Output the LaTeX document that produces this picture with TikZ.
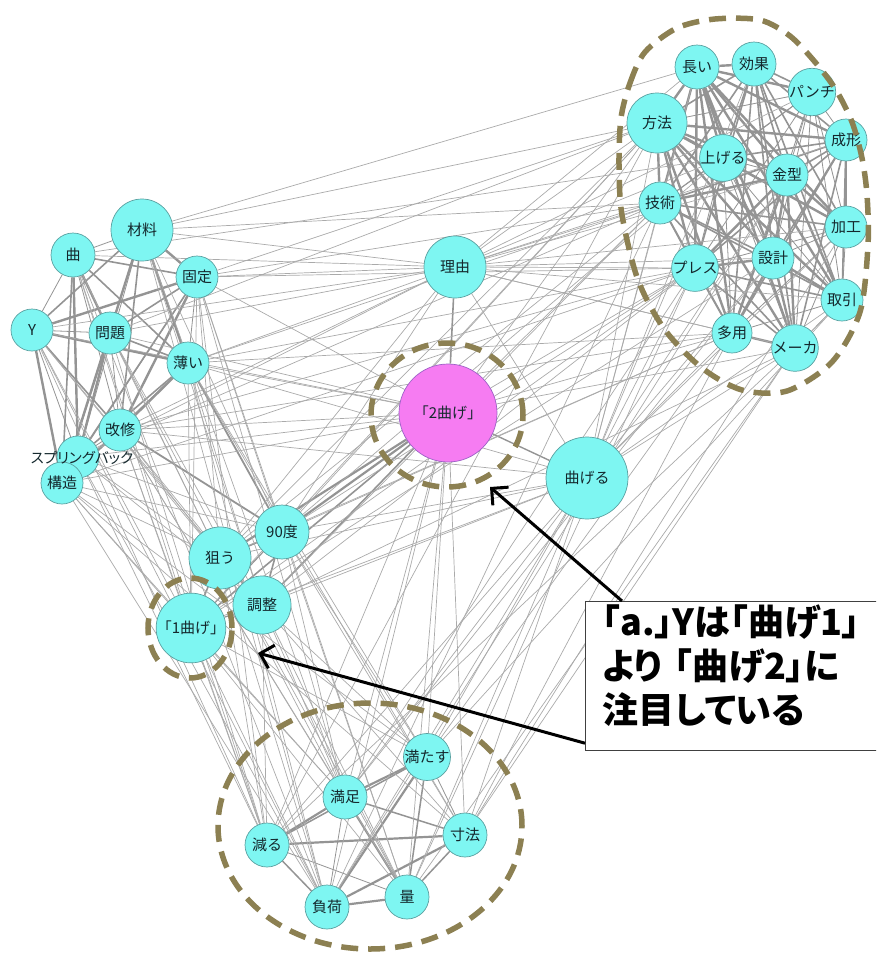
\documentclass[tikz,border=0pt]{standalone}
\usepackage{fontspec}
\setmainfont{Noto Sans CJK JP}
\newfontfamily\notefont[RawFeature=+palt]{Noto Sans CJK JP}
\usetikzlibrary{arrows.meta,calc}

\definecolor{nodecyan}{RGB}{126,246,242}
\definecolor{nodepink}{RGB}{246,124,242}
\definecolor{nodeedge}{RGB}{90,160,160}
\definecolor{nodetext}{RGB}{20,40,45}
\definecolor{dashcol}{RGB}{140,128,82}
\definecolor{edgegray}{RGB}{148,148,148}
\definecolor{thingray}{RGB}{170,170,170}

\pgfdeclarelayer{edges}
\pgfsetlayers{edges,main}

\tikzset{
  kw/.style={circle, draw=nodeedge, line width=0.7pt, fill=nodecyan,
    inner sep=0pt, minimum size=#1, text=nodetext,
    font=\fontsize{15}{15}\selectfont},
  kw/.default=42pt,
  link/.style={draw=edgegray, line width=#1},
  link/.default=1pt,
  faint/.style={draw=thingray, line width=0.7pt},
  group/.style={draw=dashcol, line width=5.5pt, dash pattern=on 17pt off 10pt},
  pointer/.style={draw=black, line width=3pt,
    -{Straight Barb[length=12pt,width=24pt,line width=3pt]}},
  notebox/.style={draw=black!75, line width=1.2pt, fill=white,
    anchor=north west, minimum width=300pt, minimum height=149pt},
  notetext/.style={anchor=north west, inner sep=0pt, text width=268pt,
    align=left, font=\notefont\bfseries\fontsize{36}{44}\selectfont}
}

\begin{document}
\begin{tikzpicture}[x=1pt,y=-1pt]
\useasboundingbox (0,0) rectangle (876,956);
\clip (0,0) rectangle (876,956);

% ---- right-hand cluster
\node[kw=44pt] (naga)     at (697,67)  {長い};
\node[kw=44pt] (kouka)    at (754,64)  {効果};
\node[kw=42pt] (panch)    at (812,92)  {パンチ};
\node[kw=60pt] (houhou)   at (657,123) {方法};
\node[kw=42pt] (seikei)   at (846,140) {成形};
\node[kw=42pt] (ageru)    at (723,158) {上げる};
\node[kw=42pt] (kanagata) at (787,175) {金型};
\node[kw=42pt] (gijutsu)  at (660,203) {技術};
\node[kw=42pt] (kakou)    at (846,227) {加工};
\node[kw=42pt] (sekkei)   at (773,258) {設計};
\node[kw=42pt] (press)    at (695,268) {プレス};
\node[kw=42pt] (torihiki) at (842,300) {取引};
\node[kw=40pt] (tayou)    at (732,333) {多用};
\node[kw=42pt] (maker)    at (795,348) {メーカ};

% ---- left-hand cluster
\node[kw=62pt] (zairyo)   at (142,230) {材料};
\node[kw=44pt] (kyoku)    at (73,255)  {曲};
\node[kw=42pt] (kotei)    at (197,277) {固定};
\node[kw=42pt] (Y)        at (32,330)  {Y};
\node[kw=42pt] (mondai)   at (110,333) {問題};
\node[kw=42pt] (usui)     at (188,363) {薄い};
\node[kw=42pt] (kaishu)   at (120,430) {改修};
\node[kw=42pt] (spring)   at (78,457)  {};
\node[kw=42pt] (kouzou)   at (62,483)  {構造};
\node[font=\notefont\fontsize{14.5}{14.5}\selectfont, text=nodetext, inner sep=0pt]
  (springlabel) at (82,458) {スプリングバック};

% ---- centre
\node[kw=62pt] (riyu)     at (455,267) {理由};
\node[kw=98pt, fill=nodepink, draw=nodeedge!60!magenta] (nimage) at (448,413) {「2曲げ」};
\node[kw=82pt] (mageru)   at (587,478) {曲げる};
\node[kw=54pt] (kyudo)    at (282,532) {90度};
\node[kw=62pt] (nerau)    at (220,558) {狙う};
\node[kw=58pt] (chosei)   at (262,605) {調整};
\node[kw=60pt] (ichimage) at (191,628) {「1曲げ」};

% ---- lower cluster
\node[kw=44pt] (mitasu)   at (427,757) {満たす};
\node[kw=44pt] (manzoku)  at (345,797) {満足};
\node[kw=44pt] (heru)     at (267,845) {減る};
\node[kw=44pt] (sunpou)   at (465,835) {寸法};
\node[kw=44pt] (fuka)     at (327,907) {負荷};
\node[kw=44pt] (ryou)     at (407,897) {量};

\def\rightset{naga,kouka,panch,houhou,seikei,ageru,kanagata,gijutsu,kakou,sekkei,press,torihiki,tayou,maker}
\def\leftset{zairyo,kyoku,kotei,Y,mondai,usui,kaishu,spring,kouzou}
\def\lowset{mitasu,manzoku,heru,sunpou,fuka,ryou}

\begin{pgfonlayer}{edges}
% dense links inside each cluster
\foreach \a [count=\i] in \rightset {
  \foreach \b [count=\j] in \rightset {
    \ifnum\j>\i
      \pgfmathsetmacro\w{0.8+0.8*mod(\i*5+\j*3,3)}
      \draw[link=\w pt] (\a) -- (\b);
    \fi
  }
}
\foreach \a [count=\i] in \leftset {
  \foreach \b [count=\j] in \leftset {
    \ifnum\j>\i
      \pgfmathsetmacro\w{0.8+0.8*mod(\i*2+\j*5,3)}
      \draw[link=\w pt] (\a) -- (\b);
    \fi
  }
}
\foreach \a [count=\i] in \lowset {
  \foreach \b [count=\j] in \lowset {
    \ifnum\j>\i
      \pgfmathsetmacro\w{0.8+0.7*mod(\i+\j*2,3)}
      \draw[link=\w pt] (\a) -- (\b);
    \fi
  }
}
% links around the centre
\draw[link=1.6pt] (riyu) -- (nimage);
\draw[link=1.4pt] (nimage) -- (mageru);
\draw[link=2.2pt] (nimage) -- (kyudo);
\draw[link=2.2pt] (nimage) -- (nerau);
\draw[link=1.6pt] (nimage) -- (chosei);
\draw[link=1.6pt] (nimage) -- (ichimage);
\draw[link=1.6pt] (kyudo) -- (nerau);
\draw[link=1.6pt] (kyudo) -- (chosei);
\draw[link=1.6pt] (nerau) -- (chosei);
\draw[link=1.6pt] (nerau) -- (ichimage);
\draw[link=1.2pt] (chosei) -- (ichimage);
\draw[link=1.2pt] (kyudo) -- (ichimage);
\draw[link=1.8pt] (kaishu) -- (kyudo);
\draw[link=1.8pt] (usui) -- (kyudo);

\foreach \b in {zairyo,kyoku,kotei,Y,mondai,usui,kaishu,spring,houhou,gijutsu,naga,ageru,kanagata,press,sekkei,tayou,maker,kakou,torihiki,mageru,nerau,kyudo,panch,seikei}
  \draw[faint] (riyu) -- (\b);
\foreach \b in {kaishu,spring,kouzou,usui,Y,mondai,kotei,mitasu,manzoku,heru,fuka,ryou,sunpou,houhou,gijutsu,press,tayou,maker}
  \draw[faint] (nimage) -- (\b);
\foreach \b in {houhou,gijutsu,ageru,press,sekkei,tayou,maker,torihiki,kanagata,kakou,naga,kouka,mitasu,manzoku,sunpou,ryou,fuka,heru,chosei,ichimage,nerau,kyudo,usui,kaishu}
  \draw[faint] (mageru) -- (\b);
\foreach \a/\b in {zairyo/houhou,zairyo/gijutsu,kotei/houhou,kotei/gijutsu,kotei/press,usui/gijutsu,usui/press,mondai/houhou,kyoku/ageru,usui/tayou,kaishu/tayou,kaishu/press,spring/gijutsu,kouzou/press,zairyo/naga,
  Y/nerau,Y/ichimage,Y/chosei,kyoku/nerau,kyoku/ichimage,zairyo/chosei,zairyo/kyudo,kotei/kyudo,kotei/nerau,kotei/ichimage,mondai/nerau,mondai/chosei,usui/chosei,usui/ichimage,kaishu/nerau,kaishu/chosei,kaishu/ichimage,spring/nerau,spring/kyudo,spring/chosei,kouzou/nerau,kouzou/ichimage,kouzou/kyudo,
  Y/heru,Y/fuka,kyoku/heru,kyoku/fuka,zairyo/manzoku,zairyo/fuka,kotei/heru,kotei/ryou,kotei/manzoku,mondai/heru,mondai/ryou,usui/fuka,usui/mitasu,usui/sunpou,kaishu/heru,kaishu/manzoku,kaishu/ryou,spring/fuka,spring/heru,kouzou/manzoku,kouzou/fuka,kouzou/sunpou,kouzou/mitasu,
  houhou/kyudo,houhou/nerau,houhou/ichimage,gijutsu/chosei,gijutsu/nerau,press/kyudo,press/ichimage,press/chosei,tayou/kyudo,tayou/nerau,maker/chosei,sekkei/ichimage,ageru/kyudo,
  houhou/heru,gijutsu/fuka,press/manzoku,press/ryou,tayou/mitasu,tayou/sunpou,maker/ryou,maker/sunpou,sekkei/manzoku,torihiki/mitasu,kakou/sunpou,kanagata/fuka,maker/heru,
  kyudo/mitasu,kyudo/manzoku,kyudo/sunpou,kyudo/ryou,nerau/heru,nerau/fuka,nerau/manzoku,nerau/ryou,chosei/manzoku,chosei/ryou,chosei/mitasu,chosei/heru,chosei/sunpou,ichimage/heru,ichimage/fuka,ichimage/manzoku,ichimage/ryou,ichimage/mitasu}
  \draw[faint] (\a) -- (\b);
\end{pgfonlayer}

% ---- dashed group outlines
\draw[group] plot[smooth cycle] coordinates {(621,118) (630,83) (645,52) (677,28) (715,19) (760,20) (790,36) (815,62) (836,90) (852,122) (862,158) (867,195) (868,245) (860,312) (832,362) (787,391) (742,390) (702,368) (665,330) (638,280) (622,215) (619,165)};
\draw[group] (447,415) ellipse [x radius=76pt, y radius=72pt];
\draw[group] (190,628) ellipse [x radius=42pt, y radius=50pt];
\draw[group] (370,826) ellipse [x radius=152pt, y radius=123pt];

% ---- callout: the box runs on past the right edge
\node[notebox] (note) at (585,601) {};
\node[notetext] (notetext) at (602,605)
  {「a.」Yは「曲げ1」\\より 「曲げ2」に\\注目している};
\coordinate (tipA) at (490,487);
\coordinate (tipB) at (258,653);
\draw[pointer] ($(note.north west)+(37,0)$) -- (tipA);
\draw[pointer] ($(note.south west)+(0,-8)$) -- (tipB);
\end{tikzpicture}
\end{document}
